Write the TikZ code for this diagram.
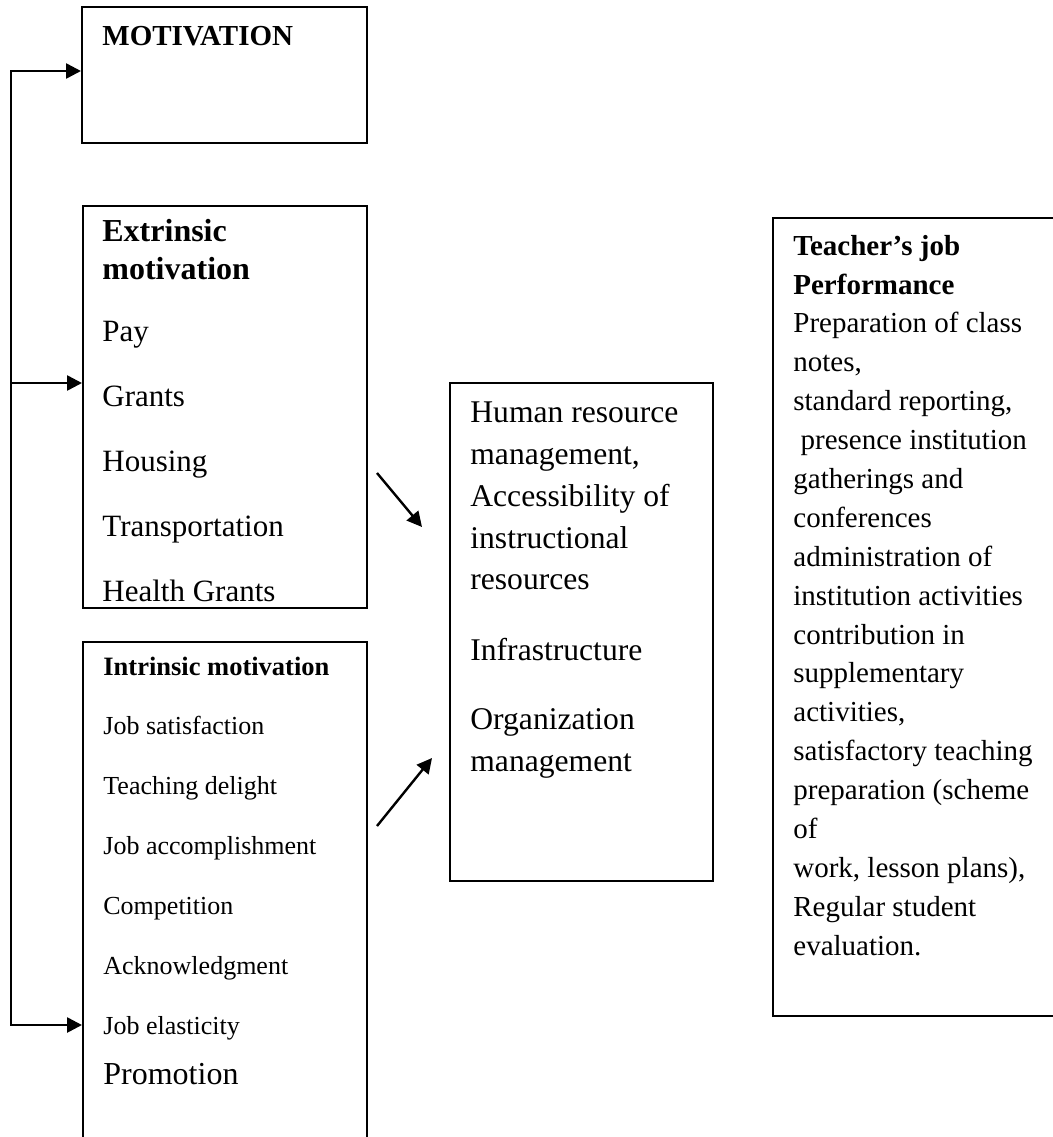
\documentclass[tikz,border=0pt]{standalone}
\usepackage{fontspec}
\setmainfont{Liberation Serif}
\usetikzlibrary{arrows.meta}
\begin{document}
\begin{tikzpicture}[x=0.5pt, y=-0.5pt, >={Triangle[length=7.5pt,width=7.5pt]},
  box/.style={draw, line width=1pt, anchor=north west, inner sep=0pt},
  txt/.style={anchor=base west, inner sep=0pt},
  link/.style={->, line width=1.3pt}]
\useasboundingbox (0,0) rectangle (1053,1137);
\clip (0,0) rectangle (1053,1137);
% boxes
\node[box, minimum width=142.5pt, minimum height=68pt] (motiv) at (81,6) {};
\node[box, minimum width=142pt, minimum height=201pt] (extr) at (82,205) {};
\node[box, minimum width=142pt, minimum height=260pt] (intr) at (82,641) {};
\node[box, minimum width=131.5pt, minimum height=249pt] (resrc) at (449,382) {};
\node[box, minimum width=150pt, minimum height=399pt] (perf) at (772,217) {};
% texts
\node[txt, font=\fontsize{14.5}{17}\bfseries] (motivtxt) at (102,45) {MOTIVATION};
\node[txt, font=\fontsize{16}{19}\bfseries] (extr1) at (102,241) {Extrinsic};
\node[txt, font=\fontsize{16}{19}\bfseries] (extr2) at (102,279) {motivation};
\foreach \y/\t in {341/Pay, 406/Grants, 471/Housing, 536/Transportation, 601/Health Grants}
  \node[txt, font=\fontsize{15.5}{18}\selectfont] at (102,\y) {\t};
\node[txt, font=\fontsize{13.25}{16}\bfseries] (intr1) at (103,675) {Intrinsic motivation};
\foreach \t [count=\i] in {Job satisfaction, Teaching delight, Job accomplishment, Competition, Acknowledgment, Job elasticity}
  \node[txt, font=\fontsize{13}{15}\selectfont] (intr\i) at (103,674+60*\i) {\t};
\node[txt, font=\fontsize{16}{19}\selectfont] (promo) at (103,1084) {Promotion};
\foreach \y/\t in {422/Human resource, 464/{management,}, 506/Accessibility of, 548/instructional, 589/resources, 660/Infrastructure, 729/Organization, 771/management}
  \node[txt, font=\fontsize{15.8}{18}\selectfont] at (470,\y) {\t};
\node[txt, font=\fontsize{14.5}{17}\bfseries] (perf1) at (793,255) {Teacher’s job};
\node[txt, font=\fontsize{14.5}{17}\bfseries] (perf2) at (793,294) {Performance};
\foreach \t [count=\i from 2] in {Preparation of class, {notes,}, {standard reporting,}, \ presence institution, gatherings and, conferences, administration of, institution activities, contribution in, supplementary, {activities,}, satisfactory teaching, preparation (scheme, of, {work, lesson plans),}, Regular student, evaluation.}
  \node[txt, font=\fontsize{14.5}{17}\selectfont] at (793,255+38.9*\i) {\t};
% connectors
\coordinate (b1) at (11,71);
\coordinate (b2) at (11,383);
\coordinate (b3) at (11,1025);
\draw[link] (b3) -- (b1) -- (b1 -| motiv.west);
\draw[link] (b2) -- (b2 -| extr.west);
\draw[link] (b1) -- (b3) -- (b3 -| intr.west);
\coordinate (d1) at (377,473);
\coordinate (d2) at (422,527);
\coordinate (d3) at (377,826);
\coordinate (d4) at (432,758);
\draw[link, line width=1.2pt] (d1) -- (d2);
\draw[link, line width=1.2pt] (d3) -- (d4);
\end{tikzpicture}
\end{document}
